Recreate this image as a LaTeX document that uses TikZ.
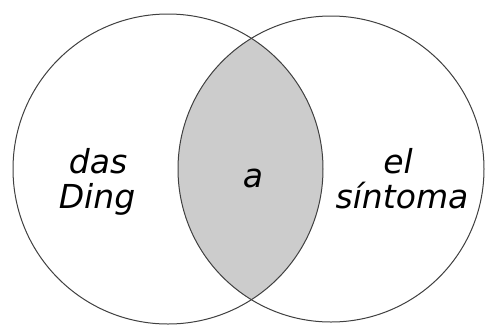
\documentclass[tikz,border=0pt]{standalone}
\usepackage{fontspec}
\setmainfont{DejaVu Sans}
\begin{document}
\begin{tikzpicture}[x=1pt,y=-1pt,
  ring/.style={draw=black!75,line width=1pt},
  lbl/.style={font=\fontsize{33}{35}\selectfont\itshape,anchor=base,inner sep=0pt}]
\useasboundingbox (0,0) rectangle (485,325);
\fill[white] (0,0) rectangle (485,325);
\begin{scope}
  \clip (168,169) circle (155);
  \fill[black!20] (331,169) circle (153);
\end{scope}
\draw[ring] (168,169) circle (155);
\draw[ring] (331,169) circle (153);
\node[lbl] (das) at (98,173) {das};
\node[lbl] (ding) at (97,208) {Ding};
\node[lbl] (a) at (253,187) {a};
\node[lbl] (el) at (398,173) {el};
\node[lbl] (sint) at (402,208) {síntoma};
\end{tikzpicture}
\end{document}
